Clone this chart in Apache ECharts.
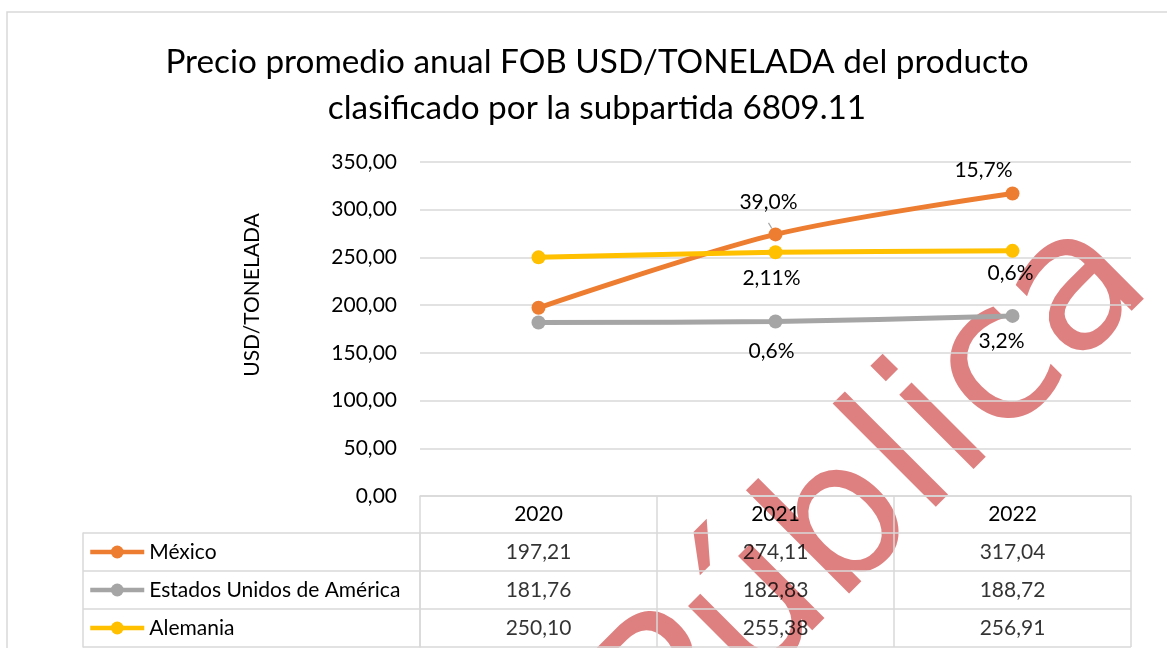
<!DOCTYPE html>
<html>
<head>
<meta charset="utf-8">
<script src="https://cdn.jsdelivr.net/npm/echarts@6/dist/echarts.min.js"></script>
<style>
  html, body { margin: 0; padding: 0; background: #fff; }
  #chart { width: 1167px; height: 648px; }
</style>
</head>
<body>
<div id="chart"></div>
<script>
// datos del gráfico
const years = ['2020', '2021', '2022']
const mexico = [197.21, 274.11, 317.04]
const eeuu = [181.76, 182.83, 188.72]
const alemania = [250.10, 255.38, 256.91]
// variaciones anuales mostradas sobre los puntos
const mexicoPct = ['', '39,0%', '15,7%']
const eeuuPct = ['', '0,6%', '3,2%']
const alemaniaPct = ['', '2,11%', '0,6%']
const seriesNames = ['México', 'Estados Unidos de América', 'Alemania']

const FONT = 'Lato'
const GRID_LINE = '#D9D9D9'

function fmt(v) {
  return v.toFixed(2).replace('.', ',')
}

// etiquetas de porcentaje con su desplazamiento
function pctData(values, pcts, place, offsets, guide) {
  return values.map((v, i) => ({
    value: v,
    label: {
      show: !!pcts[i],
      formatter: pcts[i],
      position: place,
      offset: offsets[i],
    },
    labelLine: { show: !!(guide && guide[i]) },
  }))
}

function lineSeries(name, color, data) {
  return {
    name,
    type: 'line',
    data,
    smooth: 0.3,
    symbol: 'circle',
    symbolSize: 14,
    lineStyle: { color, width: 5 },
    itemStyle: { color },
    label: {
      fontFamily: FONT,
      fontSize: 21,
      color: '#000',
    },
    labelLine: { lineStyle: { color: '#A5A5A5', width: 1.2 } },
  }
}

// celdas de la tabla de datos
const rows = [mexico, eeuu, alemania]
const cells = []
rows.forEach((r, ri) => r.forEach((v, ci) => cells.push([ci, ri, v])))

const chart = echarts.init(document.getElementById('chart'))

const option = {
  animation: false,
  backgroundColor: '#fff',
  title: {
    text: 'Precio promedio anual FOB USD/TONELADA del producto\nclasificado por la subpartida 6809.11',
    left: 592,
    top: 34,
    textAlign: 'center',
    textStyle: {
      fontFamily: FONT,
      fontSize: 33.3,
      fontWeight: 'normal',
      lineHeight: 46,
      color: '#000',
    },
  },
  legend: {
    data: seriesNames,
    orient: 'vertical',
    left: 88,
    top: 533,
    padding: 0,
    itemGap: 0,
    itemWidth: 54,
    itemHeight: 16,
    selectedMode: false,
    lineStyle: { width: 4.5 },
    textStyle: { fontFamily: FONT, fontSize: 21, lineHeight: 38, color: '#000' },
  },
  graphic: [
    {
      type: 'rect',
      z: -20,
      shape: { x: 7, y: 12, width: 1300, height: 800 },
      style: { fill: 'none', stroke: GRID_LINE, lineWidth: 1.5 },
    },
    {
      // marca de agua
      type: 'text',
      z: -10,
      x: 1121,
      y: 251,
      rotation: Math.PI / 4,
      style: {
        text: 'Pública',
        font: '192px "DejaVu Sans"',
        fill: '#DF8080',
        textAlign: 'right',
        textVerticalAlign: 'middle',
      },
    },
  ],
  grid: [
    { left: 420, right: 36, top: 162, bottom: 152 },
    { left: 420, right: 36, top: 533, height: 114 },
  ],
  xAxis: [
    {
      type: 'category',
      gridIndex: 0,
      data: years,
      axisLine: { show: true, lineStyle: { color: GRID_LINE, width: 1.5 } },
      axisTick: { show: true, interval: 0, length: 151, lineStyle: { color: GRID_LINE, width: 1.5 } },
      axisLabel: { fontFamily: FONT, fontSize: 21, color: '#000', margin: 8 },
      splitLine: { show: false },
    },
    {
      type: 'category',
      gridIndex: 1,
      data: years,
      axisLine: { show: false },
      axisTick: { show: false },
      axisLabel: { show: false },
      splitLine: { show: false },
    },
  ],
  yAxis: [
    {
      type: 'value',
      gridIndex: 0,
      min: 0,
      max: 350,
      interval: 50,
      name: 'USD/TONELADA',
      nameLocation: 'middle',
      nameRotate: 90,
      nameGap: 157,
      nameTextStyle: { fontFamily: FONT, fontSize: 21, color: '#000', padding: [0, 0, 0, 68] },
      axisLine: { show: false },
      axisTick: { show: false },
      axisLabel: { fontFamily: FONT, fontSize: 21, color: '#000', margin: 23, formatter: v => fmt(v) },
      splitLine: { lineStyle: { color: GRID_LINE, width: 1.5 } },
    },
    {
      type: 'category',
      gridIndex: 1,
      data: seriesNames,
      inverse: true,
      axisLine: { show: true, lineStyle: { color: GRID_LINE, width: 1.5 } },
      axisTick: { show: true, interval: 0, length: 337, lineStyle: { color: GRID_LINE, width: 1.5 } },
      axisLabel: { show: false },
      splitLine: { show: true, interval: 0, lineStyle: { color: GRID_LINE, width: 1.5 } },
    },
    {
      // borde izquierdo de la tabla
      type: 'category',
      gridIndex: 1,
      data: seriesNames,
      position: 'left',
      offset: 337,
      axisLine: { show: true, lineStyle: { color: GRID_LINE, width: 1.5 } },
      axisTick: { show: false },
      axisLabel: { show: false },
      splitLine: { show: false },
    },
  ],
  series: [
    lineSeries('México', '#ED7D31',
      pctData(mexico, mexicoPct, 'top', [null, [-7, -10], [-29, -1]], [false, true, false])),
    lineSeries('Estados Unidos de América', '#A5A5A5',
      pctData(eeuu, eeuuPct, 'bottom', [null, [-4, 7], [-11, 3]])),
    lineSeries('Alemania', '#FFC000',
      pctData(alemania, alemaniaPct, 'bottom', [null, [-4, 3], [-2, 0]])),
    {
      type: 'scatter',
      xAxisIndex: 1,
      yAxisIndex: 1,
      data: cells,
      symbolSize: 1,
      itemStyle: { color: 'rgba(0,0,0,0)' },
      silent: true,
      label: {
        show: true,
        position: 'inside',
        fontFamily: FONT,
        fontSize: 21,
        color: '#000',
        formatter: p => fmt(p.value[2]),
      },
    },
  ],
}

chart.setOption(option)
</script>
</body>
</html>
